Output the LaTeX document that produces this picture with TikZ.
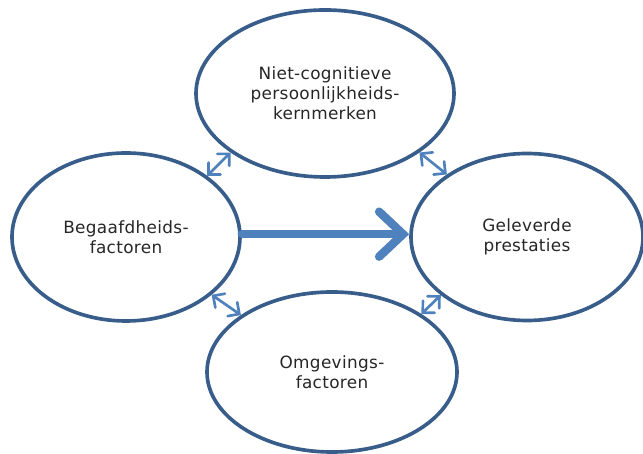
\documentclass[tikz,border=0pt]{standalone}
\usepackage{fontspec}
\setmainfont{DejaVu Sans}[LetterSpace=2]
\usepackage{tikz}
\usetikzlibrary{shapes.geometric, arrows.meta}
\definecolor{rimblue}{HTML}{385D8A}
\definecolor{arrowblue}{HTML}{4F81BD}
\definecolor{textgray}{HTML}{262626}

\begin{document}
\begin{tikzpicture}[
  blob/.style={ellipse, draw=rimblue, line width=2.6pt, inner sep=0pt,
    align=center, text=textgray, font=\fontsize{12}{14.2}\selectfont},
  link/.style={draw=arrowblue, line width=1.9pt,
    {Straight Barb[length=6pt, width=12pt, line cap=round]}-{Straight Barb[length=6pt, width=12pt, line cap=round]}},
  mainarrow/.style={draw=arrowblue, line width=6pt, line cap=round,
    -{Straight Barb[length=17pt, width=32pt, line cap=round]}}
]
\useasboundingbox (0,0) rectangle (16.075,11.35);
\node[blob, minimum width=6.45cm, minimum height=4.175cm] (kern) at (8.125,9.0125) {Niet-cognitieve\\persoonlijkheids-\\kernmerken};
\node[blob, minimum width=5.7cm, minimum height=4.2cm] (begaafd) at (3.15,5.425) {Begaafdheids-\\factoren};
\node[blob, minimum width=5.8cm, minimum height=4.175cm] (prest) at (13.175,5.425) {Geleverde\\prestaties};
\node[blob, minimum width=6.25cm, minimum height=4.0cm] (omgeving) at (8.3,2.05) {Omgevings-\\factoren};

\draw[mainarrow] (begaafd.east) ++(0,0.07) coordinate (a1) -- (a1 -| prest.west);
\draw[link] (kern.212) -- (begaafd.37);
\draw[link] (kern.328) -- (prest.142);
\draw[link] (begaafd.326) -- (omgeving.148);
\draw[link] (prest.214) -- (omgeving.33);
\end{tikzpicture}
\end{document}
